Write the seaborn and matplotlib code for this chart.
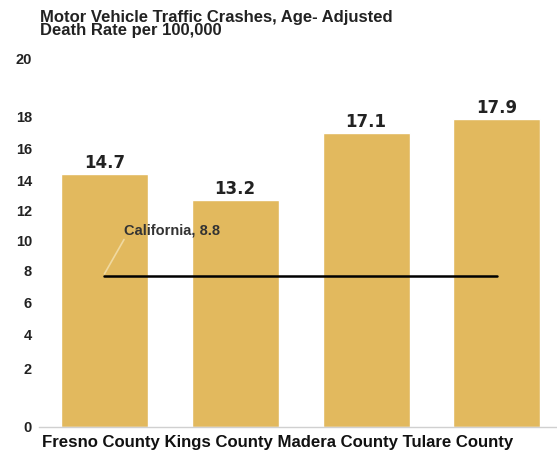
import matplotlib
matplotlib.use("Agg")
import matplotlib.pyplot as plt
import seaborn as sns
import pandas as pd

counties = ["Fresno County", "Kings County", "Madera County", "Tulare County"]
rates = [14.7, 13.2, 17.1, 17.9]
state_label = "California"
state_rate = 8.8
tick_labels = ["0", "2", "4", "6", "8", "10", "12", "14", "16", "18", "20"]

sns.set_theme(style="white")
plt.rcParams['font.family'] = ['Liberation Sans', 'DejaVu Sans']

df = pd.DataFrame({"county": counties, "rate": rates})

fig = plt.figure(figsize=(5.57, 4.54), dpi=100)
ax = fig.add_axes([39/557, 1 - 427/454, (557-39)/557, (427-57)/454])

sns.barplot(data=df, x="county", y="rate", color="#E2B95E", saturation=1,
            width=0.665, ax=ax)

ax.set_xlim(-0.5, 3.46)
ymax = (427 - 57) / 17.2
ax.set_ylim(0, ymax)

# tick label placements (pixel rows in the reference, converted to data units)
tick_rows = [427, 368, 335, 303, 271, 241, 210, 180, 148, 117, 58]
ax.set_yticks([(427 - r) / 17.2 for r in tick_rows])
ax.set_yticklabels(tick_labels, fontsize=10.5, fontweight="bold", color="#222222")
ax.tick_params(axis="y", length=0, pad=5)
ax.tick_params(axis="x", length=0)
ax.set_xticklabels([""] * len(counties))
ax.set_xlabel("")
ax.set_ylabel("")
for s in ["top", "right", "left"]:
    ax.spines[s].set_visible(False)
ax.spines["bottom"].set_color("#D0D0D0")
ax.spines["bottom"].set_linewidth(1)

# category labels run together as one line, as in the source chart
fig.text(42/557, 1 - 443/454, " ".join(counties), ha="left", va="center",
         fontsize=12.1, fontweight="bold", color="#111111")

for i, v in enumerate(rates):
    ax.text(i, v + 0.12, f"{v}", ha="center", va="bottom", fontsize=12,
            fontweight="bold", color="#222222", family="DejaVu Sans")

ax.plot([0, len(counties) - 1], [state_rate, state_rate], color="black", lw=1.8)
ax.plot([0, 0.15], [state_rate + 0.1, 10.9], color="#F0D9A0", lw=1.2)
ax.text(0.15, 11.45, f"{state_label}, {state_rate}", fontsize=10.5, fontweight="bold",
        color="#333333", va="center", ha="left")

fig.text(40/557, 1 - 10/454, "Motor Vehicle Traffic Crashes, Age- Adjusted\nDeath Rate per 100,000",
         ha="left", va="top", fontsize=12, fontweight="bold", color="#222222", linespacing=0.85)

fig.savefig("out.png", dpi=100)
